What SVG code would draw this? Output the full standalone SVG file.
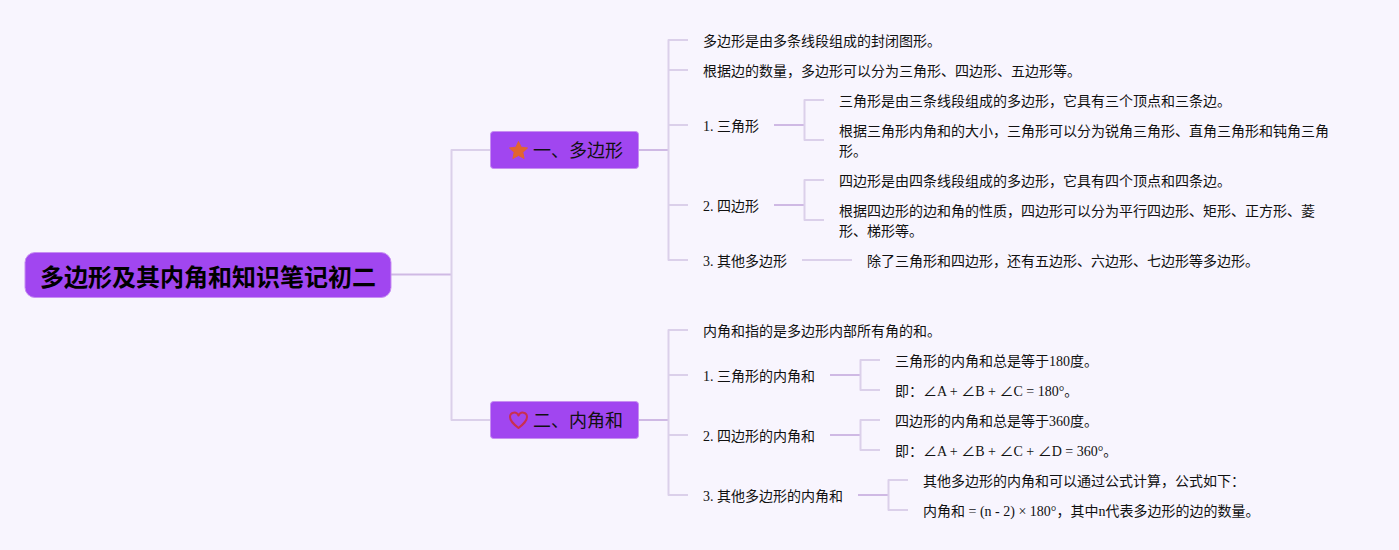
<svg xmlns="http://www.w3.org/2000/svg" width="1399" height="550" viewBox="0 0 1399 550">
<style>
text{font-family:"Liberation Serif","Noto Sans CJK SC",serif;fill:#111;font-size:14px}
.root{font-size:24px;font-weight:700;fill:#000}
.br{font-size:18px}
.a{fill:none;stroke:#dbd0ea;stroke-width:2;stroke-linejoin:round}
.b{fill:none;stroke:#cfb9e4;stroke-width:2}
.box{fill:#a146f0;stroke:#c78ff2;stroke-width:1}
</style>
<rect width="1399" height="550" fill="#f8f5fe"/>
<g id="connectors">
<path class="b" d="M391 274.500H451"/>
<path class="a" d="M490 150H451.500V420H490"/>
<path class="b" d="M638 150H668"/>
<path class="a" d="M688 40H668.500V260H688M668 70H688M668 125H688M668 205H688"/>
<path class="b" d="M774 125H804M774 205H804"/>
<path class="a" d="M824 100H804.500V140H824M824 180H804.500V220H824M802 260H852"/>
<path class="b" d="M638 420H668"/>
<path class="a" d="M688 330H668.500V495H688M668 375H688M668 435H688"/>
<path class="b" d="M830 375H860M830 435H860M858 495H888"/>
<path class="a" d="M880 360H860.500V390H880M880 420H860.500V450H880M908 480H888.500V510H908"/>
</g>
<g id="root"><rect class="box" x="25" y="252.500" width="366" height="45" rx="10"/><text class="root" x="40" y="286">多边形及其内角和知识笔记初二</text></g>
<g id="branch1"><rect class="box" x="490.500" y="131.500" width="148" height="37" rx="3"/>
<polygon points="518.500,141.500 521.100,147.200 527.500,148 522.800,152.300 524.100,158.500 518.500,155.400 512.900,158.500 514.200,152.300 509.500,148 515.900,147.200" fill="#e2652f" stroke="#e2652f" stroke-width="1" stroke-linejoin="round"/>
<text class="br" x="533" y="157">一、多边形</text></g>
<g id="branch2"><rect class="box" x="490.500" y="401.500" width="148" height="37" rx="3"/>
<path d="M518.500 428C513.500 424 510 421 510 417C510 412 516.500 411 518.500 415.500C520.500 411 527 412 527 417C527 421 523.500 424 518.500 428Z" fill="none" stroke="#c9304f" stroke-width="2" stroke-linejoin="round"/>
<text class="br" x="533" y="427">二、内角和</text></g>
<g id="n1"><text x="703" y="46">多边形是由多条线段组成的封闭图形。</text></g>
<g id="n2"><text x="703" y="76">根据边的数量，多边形可以分为三角形、四边形、五边形等。</text></g>
<g id="n3"><text x="703" y="131">1. 三角形</text></g>
<g id="n3a"><text x="839" y="106">三角形是由三条线段组成的多边形，它具有三个顶点和三条边。</text></g>
<g id="n3b"><text x="839" y="136">根据三角形内角和的大小，三角形可以分为锐角三角形、直角三角形和钝角三角</text><text x="839" y="156">形。</text></g>
<g id="n4"><text x="703" y="211">2. 四边形</text></g>
<g id="n4a"><text x="839" y="186">四边形是由四条线段组成的多边形，它具有四个顶点和四条边。</text></g>
<g id="n4b"><text x="839" y="216">根据四边形的边和角的性质，四边形可以分为平行四边形、矩形、正方形、菱</text><text x="839" y="236">形、梯形等。</text></g>
<g id="n5"><text x="703" y="266">3. 其他多边形</text></g>
<g id="n5a"><text x="867" y="266">除了三角形和四边形，还有五边形、六边形、七边形等多边形。</text></g>
<g id="m1"><text x="703" y="336">内角和指的是多边形内部所有角的和。</text></g>
<g id="m2"><text x="703" y="381">1. 三角形的内角和</text></g>
<g id="m2a"><text x="895" y="366">三角形的内角和总是等于180度。</text></g>
<g id="m2b"><text x="895" y="396">即：∠A + ∠B + ∠C = 180°。</text></g>
<g id="m3"><text x="703" y="441">2. 四边形的内角和</text></g>
<g id="m3a"><text x="895" y="426">四边形的内角和总是等于360度。</text></g>
<g id="m3b"><text x="895" y="456">即：∠A + ∠B + ∠C + ∠D = 360°。</text></g>
<g id="m4"><text x="703" y="501">3. 其他多边形的内角和</text></g>
<g id="m4a"><text x="923" y="486">其他多边形的内角和可以通过公式计算，公式如下：</text></g>
<g id="m4b"><text x="923" y="516">内角和 = (n - 2) × 180°，其中n代表多边形的边的数量。</text></g>
</svg>
